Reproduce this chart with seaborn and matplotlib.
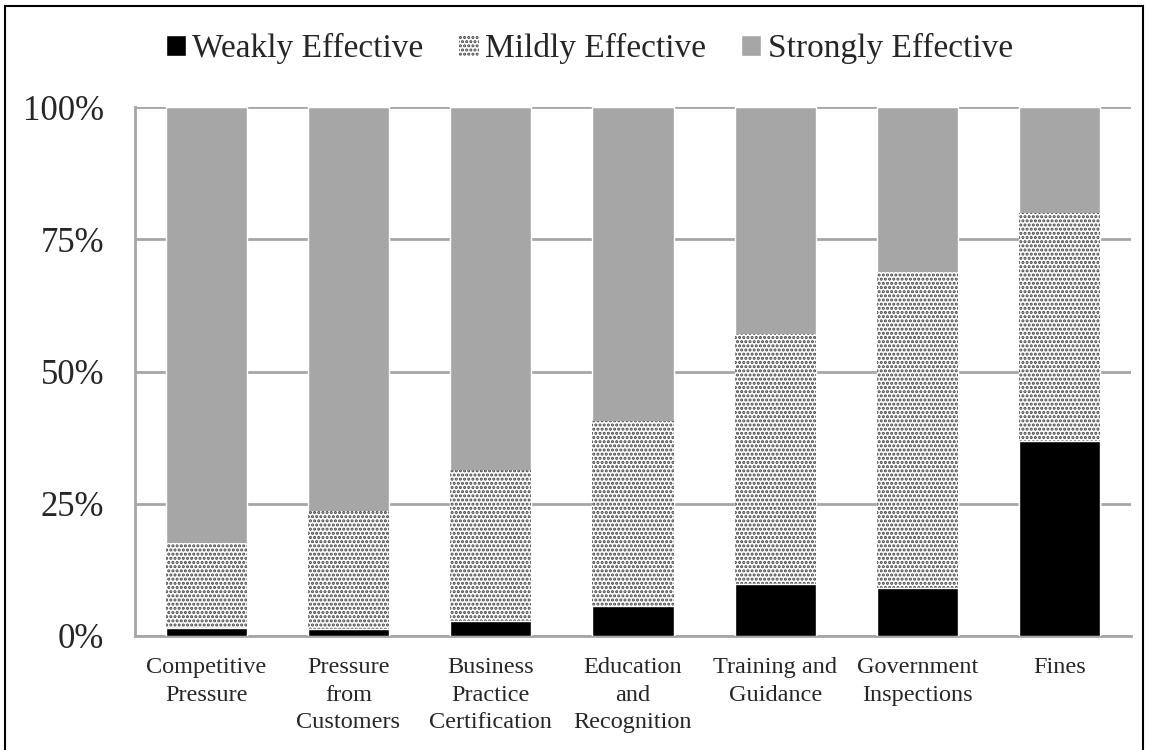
import matplotlib
matplotlib.use("Agg")
import matplotlib.pyplot as plt
import seaborn as sns
import pandas as pd
from matplotlib.patches import Patch, Rectangle

categories = ["Competitive\nPressure", "Pressure\nfrom\nCustomers", "Business\nPractice\nCertification",
              "Education\nand\nRecognition", "Training and\nGuidance", "Government\nInspections", "Fines"]
weakly = [1.5, 1.3, 2.8, 5.7, 9.8, 9.1, 36.9]
mildly = [16.1, 22.3, 28.6, 34.9, 47.3, 59.7, 43.1]
strongly = [82.4, 76.4, 68.6, 59.4, 42.9, 31.2, 20.0]

sns.set_theme(style="white")
plt.rcParams['font.family'] = ['Liberation Serif', 'DejaVu Serif']
plt.rcParams['hatch.linewidth'] = 1.5

df = pd.DataFrame({"cat": categories, "weak": weakly, "mild": mildly, "strong": strongly})
df["c_weak"] = df["weak"]
df["c_mild"] = df["weak"] + df["mild"]
df["c_strong"] = df["weak"] + df["mild"] + df["strong"]

fig = plt.figure(figsize=(11.49, 7.5), dpi=100)
ax = fig.add_axes([0.1175, 0.152, 0.8668, 0.705])

sns.barplot(data=df, x="cat", y="c_strong", color="#a6a6a6", saturation=1, width=0.57, ax=ax, zorder=3)
sns.barplot(data=df, x="cat", y="c_mild", color="white", saturation=1, width=0.57, ax=ax,
            hatch="....", edgecolor="#444444", linewidth=0, zorder=3)
sns.barplot(data=df, x="cat", y="c_weak", color="black", saturation=1, width=0.57, ax=ax, zorder=3)

ax.set_ylim(0, 100)
ax.set_xlim(-0.5, 6.5)
ax.set_yticks([0, 25, 50, 75, 100])
ax.set_yticklabels(["0%", "25%", "50%", "75%", "100%"], fontsize=25)
ax.tick_params(axis="x", labelsize=17.5, length=0, pad=15)
for lab in ax.get_xticklabels():
    lab.set_linespacing(1.42)
ax.tick_params(axis="y", length=0, pad=22)
ax.set_xlabel("")
ax.set_ylabel("")
ax.yaxis.grid(True, color="#a6a6a6", linewidth=2, zorder=0)
ax.set_axisbelow(True)
for s in ["top", "right"]:
    ax.spines[s].set_visible(False)
for s in ["left", "bottom"]:
    ax.spines[s].set_color("#a6a6a6")
    ax.spines[s].set_linewidth(2)

handles = [Patch(facecolor="black", label="Weakly Effective"),
           Patch(facecolor="white", hatch="....", edgecolor="#444444", linewidth=0, label="Mildly Effective"),
           Patch(facecolor="#a6a6a6", label="Strongly Effective")]
fig.legend(handles=handles, loc="center", bbox_to_anchor=(0.513, 0.935), ncol=3, frameon=False,
           fontsize=24, handlelength=0.6, handleheight=0.6, handletextpad=0.2, columnspacing=1.05)

fig.patches.append(Rectangle((5 / 1149, -0.1), 1138 / 1149, 1.1 - 6 / 750, transform=fig.transFigure,
                             fill=False, edgecolor="black", linewidth=1.5, clip_on=False))

fig.savefig("out.png", dpi=100)
